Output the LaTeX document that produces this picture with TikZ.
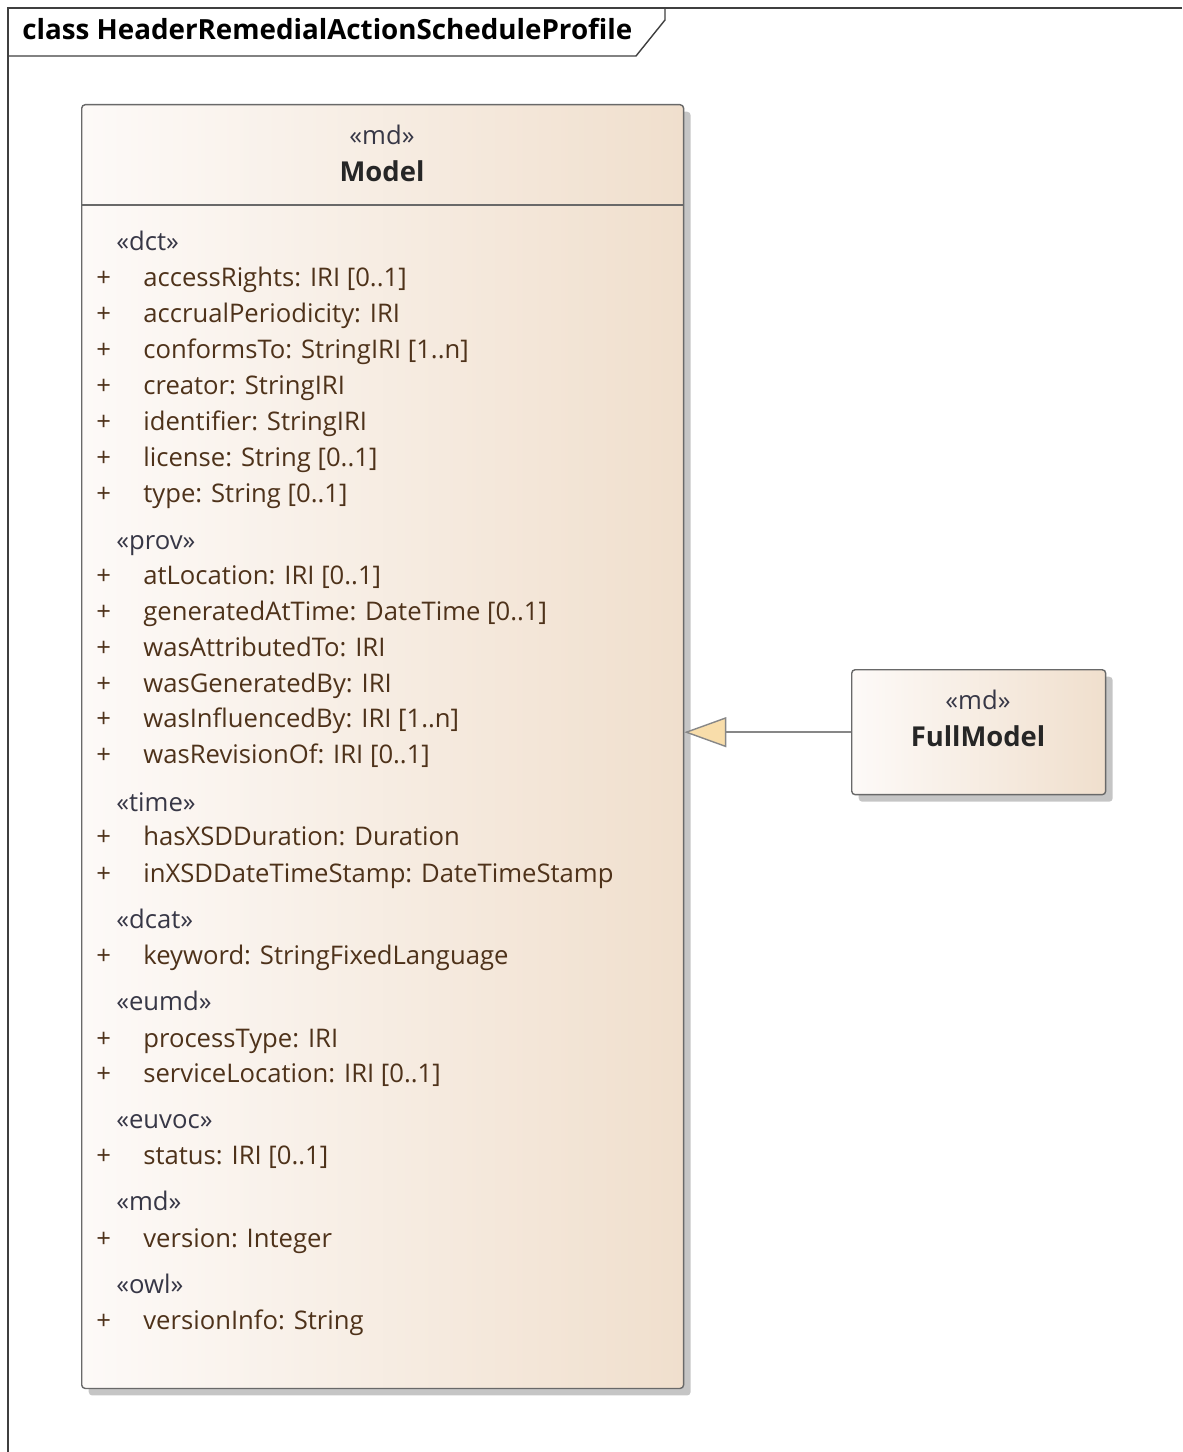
\documentclass[tikz,border=0pt]{standalone}
\usepackage{fontspec}
\setmainfont{Open Sans}
\usetikzlibrary{arrows.meta,shadows}
\definecolor{boxleft}{RGB}{253,250,248}
\definecolor{boxright}{RGB}{240,223,205}
\definecolor{boxline}{RGB}{105,105,105}
\definecolor{tipfill}{RGB}{248,221,170}
\definecolor{attrtext}{RGB}{78,50,26}
\definecolor{stereotext}{RGB}{55,55,70}
\tikzset{
	umlbox/.style={draw=boxline, thick, rounded corners=2pt, left color=boxleft, right color=boxright, anchor=north west, inner sep=0pt, drop shadow={shadow xshift=4pt, shadow yshift=-4pt, fill=black!45, opacity=0.5}},
	attr/.style={anchor=west, inner sep=0pt, text=attrtext, text height=12.5pt, text depth=2pt},
	stereo/.style={inner sep=0pt, text=stereotext, text height=12.5pt, text depth=2pt},
	boldname/.style={stereo, text=black!85, font=\fontsize{15.6}{18}\selectfont\bfseries},
}
\begin{document}
\begin{tikzpicture}[x=0.02cm, y=-0.02cm, every node/.style={font=\fontsize{14.6}{17}\selectfont}]
	\useasboundingbox (0,0) rectangle (1182,1452);
	\draw[boxline!60!black, thick] (8,1452) -- (8,8) -- (1182,8);
	\node[anchor=west, inner sep=0pt, text height=12.5pt, text depth=2pt, font=\fontsize{15.8}{18}\selectfont\bfseries] (title) at (22,30) {class HeaderRemedialActionScheduleProfile};
	\draw[boxline!60!black, thick] (8,56) -- (636,56) -- (665,20) -- (665,8);
	
	\node[umlbox, minimum width=12.04cm, minimum height=25.68cm] (model) at (81,104) {};
	\node[stereo] (modelst) at (382,135) {«md»};
	\node[boldname] (modelname) at (382,172) {Model};
	\draw[boxline, thick] (model.north west) ++(0,101) -- ++(602,0);
	\foreach \y/\s in {241/dct, 540/prov, 802/time, 919/dcat, 1001/eumd, 1119/euvoc, 1201/md, 1284/owl}{
		\node[stereo, anchor=west] (st\y) at (116,\y) {«\s»};
	}
	\foreach \y/\t in {277/accessRights: IRI [0..1], 313/accrualPeriodicity: IRI, 349/conformsTo: StringIRI [1..n], 385/creator: StringIRI, 421/identifier: StringIRI, 457/license: String [0..1], 493/type: String [0..1], 575/atLocation: IRI [0..1], 611/generatedAtTime: DateTime [0..1], 647/wasAttributedTo: IRI, 683/wasGeneratedBy: IRI, 718/wasInfluencedBy: IRI [1..n], 754/wasRevisionOf: IRI [0..1], 836/hasXSDDuration: Duration, 873/inXSDDateTimeStamp: DateTimeStamp, 955/keyword: StringFixedLanguage, 1038/processType: IRI, 1073/serviceLocation: IRI [0..1], 1155/status: IRI [0..1], 1238/version: Integer, 1320/versionInfo: String}{
		\node[attr] (vis\y) at (96,\y) {+};
		\node[attr] (attr\y) at (143,\y) {\t};
	}
	
	\node[umlbox, minimum width=5.08cm, minimum height=2.5cm] (full) at (851,669) {};
	\node[stereo] (fullst) at (978,700) {«md»};
	\node[boldname] (fullname) at (978,737) {FullModel};
	\draw[boxline!80, thick, -{Triangle[length=0.84cm, width=0.6cm, fill=tipfill]}] (full.west) -- (full.west -| model.east);
\end{tikzpicture}
\end{document}
